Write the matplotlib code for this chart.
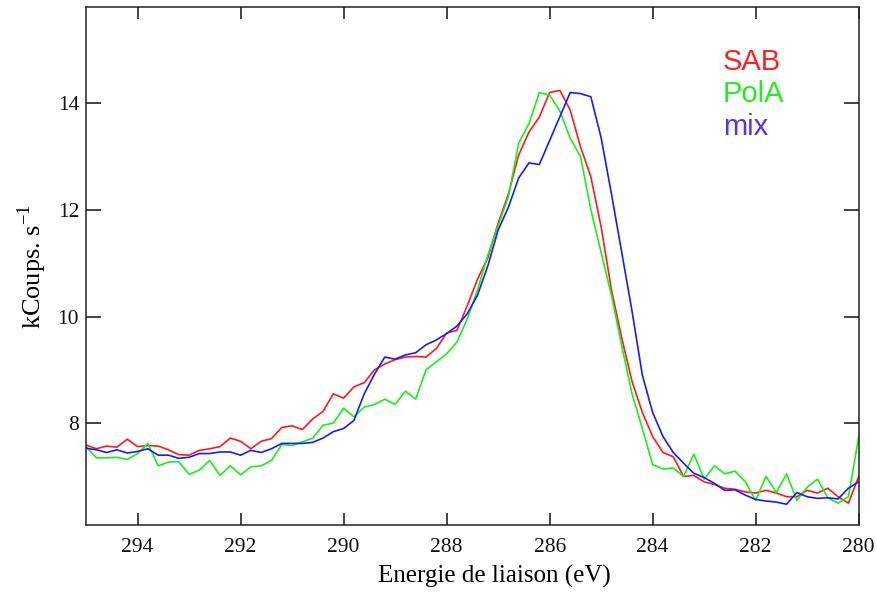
import matplotlib
matplotlib.use("Agg")
import matplotlib.pyplot as plt
import numpy as np

plt.rcParams["font.family"] = ["Liberation Serif", "DejaVu Serif"]
plt.rcParams["mathtext.fontset"] = "custom"
plt.rcParams["mathtext.rm"] = "Liberation Serif"

# energie de liaison, pas de 0.2 eV (295 -> 280)
energie = [295.0 - 0.2 * i for i in range(76)]

sab = [7.59, 7.52, 7.57, 7.55, 7.70, 7.56, 7.58, 7.57, 7.50, 7.41,
       7.40, 7.49, 7.52, 7.56, 7.72, 7.66, 7.52, 7.66, 7.71, 7.92,
       7.95, 7.88, 8.08, 8.22, 8.55, 8.47, 8.68, 8.76, 9.00, 9.11,
       9.19, 9.24, 9.25, 9.24, 9.40, 9.69, 9.74, 10.20, 10.70, 11.10,
       11.75, 12.30, 13.03, 13.46, 13.74, 14.20, 14.24, 13.87, 13.18, 12.62,
       11.68, 10.50, 9.60, 8.78, 8.20, 7.75, 7.45, 7.37, 7.00, 7.02,
       6.90, 6.85, 6.78, 6.76, 6.71, 6.69, 6.74, 6.69, 6.62, 6.62,
       6.74, 6.69, 6.78, 6.62, 6.50, 7.00]

pola = [7.56, 7.35, 7.35, 7.36, 7.32, 7.43, 7.62, 7.20, 7.27, 7.28,
        7.04, 7.12, 7.30, 7.02, 7.20, 7.03, 7.18, 7.20, 7.30, 7.60,
        7.58, 7.65, 7.72, 7.96, 8.00, 8.28, 8.12, 8.30, 8.35, 8.45,
        8.35, 8.60, 8.45, 9.00, 9.15, 9.30, 9.52, 9.95, 10.50, 11.15,
        11.70, 12.25, 13.25, 13.62, 14.20, 14.15, 13.85, 13.34, 13.00, 12.00,
        11.20, 10.40, 9.45, 8.55, 7.90, 7.22, 7.14, 7.16, 7.00, 7.42,
        6.95, 7.20, 7.05, 7.10, 6.90, 6.55, 7.00, 6.70, 7.05, 6.55,
        6.80, 6.95, 6.60, 6.50, 6.62, 7.74]

mix = [7.53, 7.50, 7.45, 7.50, 7.44, 7.47, 7.52, 7.40, 7.40, 7.34,
       7.36, 7.43, 7.43, 7.46, 7.46, 7.40, 7.49, 7.45, 7.52, 7.62,
       7.62, 7.62, 7.64, 7.72, 7.84, 7.90, 8.05, 8.55, 8.92, 9.24,
       9.20, 9.28, 9.32, 9.47, 9.56, 9.68, 9.82, 10.05, 10.40, 10.95,
       11.62, 12.05, 12.60, 12.88, 12.85, 13.30, 13.75, 14.20, 14.18, 14.12,
       13.35, 12.30, 11.20, 10.10, 8.90, 8.20, 7.75, 7.45, 7.25, 7.06,
       6.98, 6.87, 6.74, 6.75, 6.65, 6.57, 6.54, 6.52, 6.48, 6.70,
       6.62, 6.59, 6.60, 6.58, 6.78, 6.90]

noms = ["SAB", "PolA", "mix"]
couleurs = ["#ff1a1a", "#1aee1a", "#1a1aff"]
couleurs_txt = ["#ff2020", "#20ee20", "#5030ff"]

fig = plt.figure(figsize=(8.78, 5.99), dpi=100)
ax = fig.add_axes([0.098, 0.1235, 0.880, 0.8645])

for serie, c in zip([sab, pola, mix], couleurs):
    ax.plot(energie, serie, color=c, lw=1.2)

ax.set_xlim(295, 280)
ax.set_ylim(6.09, 15.8)
ax.set_xticks([294, 292, 290, 288, 286, 284, 282, 280])
ax.set_yticks([8, 10, 12, 14])

for s in ax.spines.values():
    s.set_linewidth(1.1)
    s.set_color("#222222")
ax.tick_params(axis="y", direction="in", length=11, width=1.1, right=True,
               labelsize=15.5, pad=5, colors="#111111")
ax.tick_params(axis="x", direction="in", length=8.5, width=1.1, top=True,
               labelsize=15.5, pad=9, colors="#111111")

ax.set_xlabel("Energie de liaison (eV)", fontsize=18)
ax.xaxis.set_label_coords(0.528, -0.077)
ax.set_ylabel("kCoups. s$^{\\mathregular{-1}}$", fontsize=19, labelpad=6)

for nom, c, yy in zip(noms, couleurs_txt, [0.878, 0.817, 0.753]):
    ax.text(0.824, yy, nom, color=c, transform=ax.transAxes,
            family="Liberation Sans", fontsize=21, va="baseline")

fig.savefig("out.png", dpi=100)
